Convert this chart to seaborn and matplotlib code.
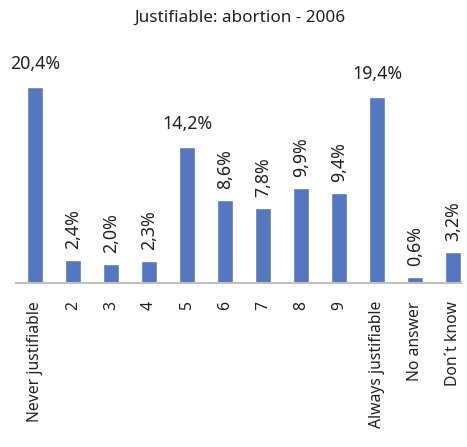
import matplotlib
matplotlib.use("Agg")
import matplotlib.pyplot as plt
import seaborn as sns
import pandas as pd

# chart data
categories = ["Never justifiable", "2", "3", "4", "5", "6", "7", "8", "9",
              "Always justifiable", "No answer", "Don´t know"]
values = [20.4, 2.4, 2.0, 2.3, 14.2, 8.6, 7.8, 9.9, 9.4, 19.4, 0.6, 3.2]
title = "Justifiable: abortion - 2006"

df = pd.DataFrame({"cat": categories, "val": values})

sns.set_style("white")
plt.rcParams["font.family"] = ["Noto Sans", "DejaVu Sans"]

fig = plt.figure(figsize=(4.67, 4.47), dpi=100)
ax = fig.add_axes([16 / 467, 1 - 283 / 447, 445 / 467, 240 / 447])

sns.barplot(data=df, x="cat", y="val", color="#5577C0", width=0.4,
            saturation=1, ax=ax)

ax.set_ylim(0, 25)
ax.set_xlim(-0.5, 11.21)
ax.set_xlabel("")
ax.set_ylabel("")
ax.set_yticks([])
for s in ["top", "right", "left"]:
    ax.spines[s].set_visible(False)
ax.spines["bottom"].set_color("#BFBFBF")
ax.spines["bottom"].set_linewidth(1.5)
ax.tick_params(axis="x", length=0, pad=13, labelsize=11.3, labelcolor="#222222")
plt.setp(ax.get_xticklabels(), rotation=90, va="top", ha="center")

#value labels: tall bars get flat labels, others rotated
for i, v in enumerate(values):
    txt = f"{v:.1f}%".replace(".", ",")
    if v > 12:
        ax.annotate(txt, (i, v), xytext=(0, 10), textcoords="offset points",
                    ha="center", va="bottom", fontsize=12.8, color="#222222")
    else:
        ax.annotate(txt, (i, v), xytext=(0, 8), textcoords="offset points",
                    ha="center", va="bottom", rotation=90, fontsize=12.8,
                    color="#222222")

fig.text(240 / 467, 1 - 18 / 447, title, ha="center", va="center",
         fontsize=12.3, color="#222222")

fig.savefig("out.png", dpi=100)
